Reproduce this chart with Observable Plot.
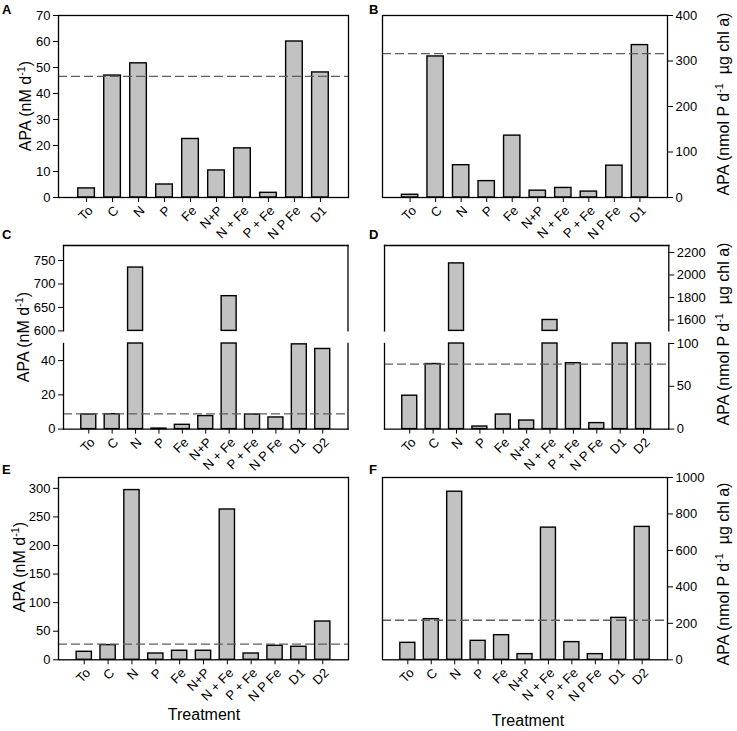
<!DOCTYPE html>
<html>
<head>
<meta charset="utf-8">
<script src="https://cdn.jsdelivr.net/npm/d3@7"></script>
<script src="https://cdn.jsdelivr.net/npm/@observablehq/plot@0.6"></script>
<style>
  body { margin: 0; background: #fff; }
  #root { position: relative; width: 737px; height: 731px; background: #fff; font-family: "Liberation Sans", Arial, sans-serif; color: #000; overflow: hidden; }
  .lbl { position: absolute; white-space: nowrap; line-height: 1; }
  .lbl sup { font-size: 0.68em; line-height: 1; vertical-align: 0.55em; }
</style>
</head>
<body>
<div id="root"></div>
<script>
// ---- data ----
const cats10 = ["To", "C", "N", "P", "Fe", "N+P", "N + Fe", "P + Fe", "N P Fe", "D1"];
const cats11 = ["To", "C", "N", "P", "Fe", "N+P", "N + Fe", "P + Fe", "N P Fe", "D1", "D2"];

const valuesA = [3.5, 46.9, 51.6, 5.0, 22.5, 10.4, 18.9, 1.8, 60.0, 48.1];
const dashA = 46.6;
const valuesB = [6, 310, 71, 36, 136, 15, 21, 13, 70, 335];
const dashB = 316;
const valuesC = [8.5, 8.7, 735, 0.3, 2.5, 7.6, 674, 8.5, 6.8, 49.5, 46.8];
const dashC = 8.9;
const valuesD = [39, 76, 2103, 3, 17, 10, 1600, 77, 7, 100, 100];
const dashD = 76;
const valuesE = [14, 25.7, 297, 11, 15.8, 15.8, 263, 11, 24.5, 22.8, 67];
const dashE = 27.5;
const valuesF = [93, 223, 922, 104, 135, 31, 725, 97, 31, 230, 729];
const dashF = 217;

const ticksA = [0, 10, 20, 30, 40, 50, 60, 70];
const ticksB = [0, 100, 200, 300, 400];
const ticksCUpper = [600, 650, 700, 750];
const ticksCLower = [0, 20, 40];
const ticksDUpper = [1600, 1800, 2000, 2200];
const ticksDLower = [0, 50, 100];
const ticksE = [0, 50, 100, 150, 200, 250, 300];
const ticksF = [0, 200, 400, 600, 800, 1000];

// ---- drawing ----
const root = document.getElementById("root");

function panel(o) {
  const mL = o.side === "left" ? 50 : 3;
  const mR = o.side === "left" ? 3 : 50;
  const mT = 4, mB = o.xAxis ? 62 : 4;
  const W = o.right - o.left, H = o.bottom - o.top;
  const lo = o.domain[0], hi = o.domain[1];
  const rows = o.cats.map((c, i) => ({cat: c, v: o.values[i]}));
  const marks = [
    Plot.barY(rows.filter(d => d.v > lo), {
      x: "cat", y1: lo, y2: d => Math.min(d.v, hi),
      fill: "#c2c2c2", stroke: "#000", strokeWidth: 1.4
    })
  ];
  if (o.dash != null) {
    marks.push(Plot.ruleY([o.dash], {stroke: "#5e5e5e", strokeWidth: 1.3, strokeDasharray: "9,4"}));
  }
  if (o.frame === "all") {
    marks.push(Plot.frame({stroke: "#000", strokeWidth: 1.3}));
  } else {
    for (const s of o.frame) marks.push(Plot.frame({anchor: s, stroke: "#000", strokeWidth: 1.3}));
  }
  if (o.xAxis) {
    marks.push(Plot.axisX({anchor: "bottom", tickSize: 5, fill: "none", label: null}));
    marks.push(Plot.axisX({anchor: "bottom", tickSize: 0, tickPadding: 11, tickRotate: -45, dx: 4, label: null}));
  }
  const svg = Plot.plot({
    width: W + mL + mR,
    height: H + mT + mB,
    marginLeft: mL, marginRight: mR, marginTop: mT, marginBottom: mB,
    style: {fontFamily: '"Liberation Sans", Arial, sans-serif', fontSize: "13px", background: "transparent", overflow: "visible", color: "#000"},
    x: {domain: o.cats, paddingInner: 0.36, paddingOuter: 0.76, round: false, axis: null},
    y: {
      domain: o.domain, ticks: o.ticks, tickSize: 5, tickPadding: 3,
      tickFormat: d3.format("d"), axis: o.side, label: null
    },
    marks
  });
  svg.style.position = "absolute";
  svg.style.left = (o.left - mL) + "px";
  svg.style.top = (o.top - mT) + "px";
  root.appendChild(svg);
}

function label(html, x, y, size, opts = {}) {
  const d = document.createElement("div");
  d.className = "lbl";
  d.innerHTML = html;
  d.style.fontSize = size + "px";
  if (opts.bold) d.style.fontWeight = "bold";
  d.style.left = x + "px";
  d.style.top = y + "px";
  if (opts.rotate) {
    d.style.transform = "translate(-50%, -50%) rotate(-90deg)";
  } else if (opts.center) {
    d.style.transform = "translate(-50%, 0)";
  }
  root.appendChild(d);
}

// Panel A
panel({cats: cats10, values: valuesA, dash: dashA, domain: [0, 70], ticks: ticksA,
  left: 58, right: 348, top: 15, bottom: 197, side: "left", xAxis: true, frame: "all"});
// Panel B
panel({cats: cats10, values: valuesB, dash: dashB, domain: [0, 400], ticks: ticksB,
  left: 382, right: 667, top: 15, bottom: 197, side: "right", xAxis: true, frame: "all"});
// Panel C (broken axis)
panel({cats: cats11, values: valuesC, dash: null, domain: [600, 782], ticks: ticksCUpper,
  left: 62.5, right: 347, top: 245.3, bottom: 330.7, side: "left", xAxis: false, frame: ["top", "left", "right"]});
panel({cats: cats11, values: valuesC, dash: dashC, domain: [0, 50], ticks: ticksCLower,
  left: 62.5, right: 347, top: 342.7, bottom: 428.3, side: "left", xAxis: true, frame: ["bottom", "left", "right"]});
// Panel D (broken axis)
panel({cats: cats11, values: valuesD, dash: null, domain: [1503, 2262], ticks: ticksDUpper,
  left: 383.7, right: 668, top: 245.3, bottom: 330.7, side: "right", xAxis: false, frame: ["top", "left", "right"]});
panel({cats: cats11, values: valuesD, dash: dashD, domain: [0, 100], ticks: ticksDLower,
  left: 383.7, right: 668, top: 342.7, bottom: 428.3, side: "right", xAxis: true, frame: ["bottom", "left", "right"]});
// Panel E
panel({cats: cats11, values: valuesE, dash: dashE, domain: [0, 319], ticks: ticksE,
  left: 58, right: 348, top: 477, bottom: 659.3, side: "left", xAxis: true, frame: "all"});
// Panel F
panel({cats: cats11, values: valuesF, dash: dashF, domain: [0, 1000], ticks: ticksF,
  left: 382, right: 667, top: 477, bottom: 659.3, side: "right", xAxis: true, frame: "all"});

// Axis titles
const leftTitle = "APA (nM d<sup>-1</sup>)";
const rightTitle = "APA (nmol P d<sup>-1</sup> &nbsp;µg chl a)";
label(leftTitle, 25, 106, 16, {rotate: true});
label(leftTitle, 22.5, 337, 16, {rotate: true});
label(leftTitle, 18.5, 567, 16, {rotate: true});
label(rightTitle, 723, 104, 16, {rotate: true});
label(rightTitle, 723, 334, 16, {rotate: true});
label(rightTitle, 723, 574, 16, {rotate: true});

label("Treatment", 204, 707, 16, {center: true});
label("Treatment", 528, 713, 16, {center: true});

// Panel letters
label("A", 2, 3, 13, {bold: true});
label("B", 369, 3, 13, {bold: true});
label("C", 2, 228, 13, {bold: true});
label("D", 369, 228, 13, {bold: true});
label("E", 2, 463, 13, {bold: true});
label("F", 369, 463, 13, {bold: true});
</script>
</body>
</html>
